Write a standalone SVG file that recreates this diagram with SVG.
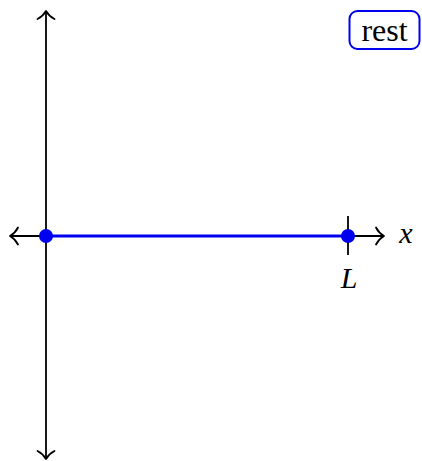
<svg xmlns="http://www.w3.org/2000/svg" width="422" height="461" viewBox="0 0 422 461">
<style>
.ax{stroke:#000;stroke-width:1.8;fill:none}
.tip{stroke:#000;stroke-width:1.8;fill:none;stroke-linecap:round;stroke-linejoin:round}
.lbl{font-family:"Liberation Serif","DejaVu Serif",serif;font-size:30px;font-style:italic;fill:#000}
.txt{font-family:"Liberation Serif","DejaVu Serif",serif;font-size:32px;fill:#000}
.dot{fill:#0000ee}
</style>
<g id="connectors">
<line class="ax" x1="46" y1="11" x2="46" y2="459"/>
<path class="tip" d="M37.5,19 C40.5,17.5 44,14.5 46,11 C48,14.5 51.5,17.5 54.5,19"/>
<path class="tip" d="M37.5,451 C40.5,452.5 44,455.5 46,459 C48,455.5 51.5,452.5 54.5,451"/>
<line class="ax" x1="10" y1="236" x2="384" y2="236"/>
<path class="tip" d="M18,227.5 C16.5,230.5 13.5,234 10,236 C13.5,238 16.5,241.5 18,244.5"/>
<path class="tip" d="M376,227.5 C377.5,230.5 380.5,234 384,236 C380.5,238 377.5,241.5 376,244.5"/>
<line class="ax" x1="348" y1="216" x2="348" y2="255"/>
<line x1="46" y1="236" x2="348" y2="236" stroke="#0000ee" stroke-width="3"/>
</g>
<g id="origin"><circle class="dot" cx="46" cy="236" r="7"/></g>
<g id="pointL"><circle class="dot" cx="348" cy="236" r="7"/>
<text class="lbl" x="349" y="288" text-anchor="middle">L</text></g>
<g id="xlabel"><text class="lbl" x="406" y="243" text-anchor="middle">x</text></g>
<g id="rest"><rect x="349.5" y="11" width="70" height="38" rx="8" fill="#fff" stroke="#0000ee" stroke-width="2"/>
<text class="txt" x="384.5" y="41" text-anchor="middle">rest</text></g>
</svg>
